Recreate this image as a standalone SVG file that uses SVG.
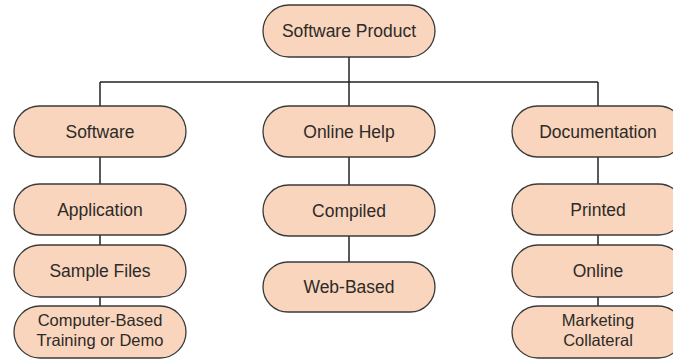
<svg xmlns="http://www.w3.org/2000/svg" width="673" height="361" viewBox="0 0 673 361">
<style>
.n rect{fill:#F8D5BC;stroke:#3a3a3a;stroke-width:1.3}
.n text{font-family:"Liberation Sans",Arial,sans-serif;font-size:17.5px;fill:#2e2a28;text-anchor:middle}
.n text.two{font-size:16.5px}
.c line{stroke:#222;stroke-width:1.5}
</style>
<rect width="673" height="361" fill="#fff"/>
<g class="c" id="connectors">
<line x1="349" y1="57" x2="349" y2="106"/>
<line x1="100" y1="82" x2="598" y2="82"/>
<line x1="100" y1="82" x2="100" y2="106"/>
<line x1="598" y1="82" x2="598" y2="106"/>
<line x1="100" y1="157" x2="100" y2="184"/>
<line x1="100" y1="235" x2="100" y2="245"/>
<line x1="100" y1="297" x2="100" y2="306"/>
<line x1="349" y1="157" x2="349" y2="185"/>
<line x1="349" y1="236" x2="349" y2="262"/>
<line x1="598" y1="157" x2="598" y2="184"/>
<line x1="598" y1="235" x2="598" y2="245"/>
<line x1="598" y1="297" x2="598" y2="306"/>
</g>
<g class="n" id="software-product"><rect x="263" y="5" width="172" height="52" rx="26"/><text x="349" y="37">Software Product</text></g>
<g class="n" id="software"><rect x="14" y="106" width="172" height="51" rx="25.5"/><text x="100" y="137.5">Software</text></g>
<g class="n" id="online-help"><rect x="263" y="106" width="172" height="51" rx="25.5"/><text x="349" y="137.5">Online Help</text></g>
<g class="n" id="documentation"><rect x="512" y="106" width="172" height="51" rx="25.5"/><text x="598" y="137.5">Documentation</text></g>
<g class="n" id="application"><rect x="14" y="184" width="172" height="51" rx="25.5"/><text x="100" y="215.5">Application</text></g>
<g class="n" id="sample-files"><rect x="14" y="245" width="172" height="52" rx="26"/><text x="100" y="277">Sample Files</text></g>
<g class="n" id="computer-based"><rect x="14" y="306" width="172" height="52" rx="26"/><text class="two" x="100" y="326">Computer-Based</text><text class="two" x="100" y="345.5">Training or Demo</text></g>
<g class="n" id="compiled"><rect x="263" y="185" width="172" height="51" rx="25.5"/><text x="349" y="216.5">Compiled</text></g>
<g class="n" id="web-based"><rect x="263" y="262" width="172" height="50" rx="25"/><text x="349" y="293">Web-Based</text></g>
<g class="n" id="printed"><rect x="512" y="184" width="172" height="51" rx="25.5"/><text x="598" y="215.5">Printed</text></g>
<g class="n" id="online"><rect x="512" y="245" width="172" height="52" rx="26"/><text x="598" y="277">Online</text></g>
<g class="n" id="marketing"><rect x="512" y="306" width="172" height="52" rx="26"/><text class="two" x="598" y="326">Marketing</text><text class="two" x="598" y="345.5">Collateral</text></g>
</svg>
